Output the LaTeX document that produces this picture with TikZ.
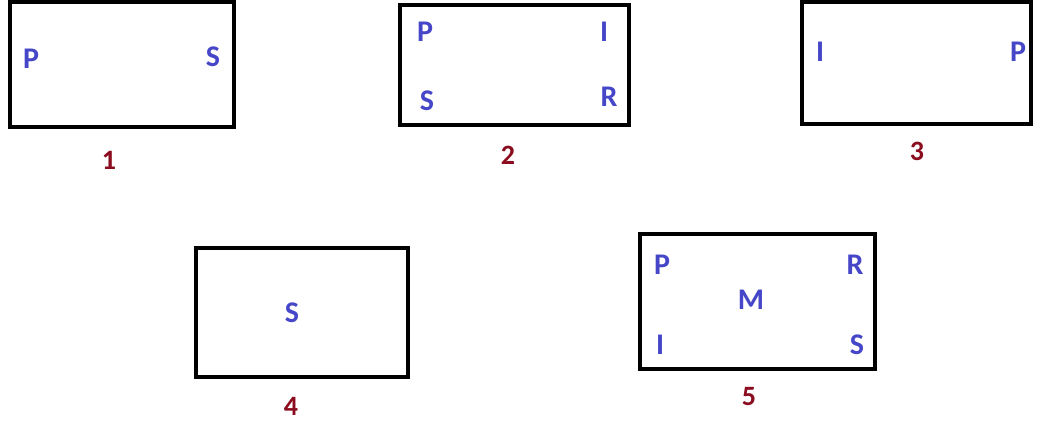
\documentclass[tikz,border=0pt]{standalone}
\usepackage{fontspec}
\setmainfont{Carlito}
\definecolor{letblue}{HTML}{4646C8}
\definecolor{labred}{HTML}{8A0C1E}
\begin{document}
\begin{tikzpicture}[x=1pt,y=-1pt,
  frame/.style={draw=black,line width=4pt},
  lett/.style={text=letblue,font=\fontsize{30}{30}\selectfont\bfseries,inner sep=0pt},
  lab/.style={text=labred,font=\fontsize{28}{28}\selectfont\bfseries,inner sep=0pt}]
\useasboundingbox[fill=white] (0,0) rectangle (1043,423);
% box 1
\draw[frame] (10,2) rectangle (234,127);
\node[lett] (b1p) at (31,59) {P};
\node[lett] (b1s) at (213,57) {S};
\node[lab] (l1) at (109,160) {1};
% box 2
\draw[frame] (400,5) rectangle (629,125);
\node[lett] (b2p) at (425,32) {P};
\node[lett] (b2i) at (604,32) {I};
\node[lett] (b2s) at (427,101) {S};
\node[lett] (b2r) at (609,97) {R};
\node[lab] (l2) at (508,155) {2};
% box 3
\draw[frame] (802,2) rectangle (1031,124);
\node[lett] (b3i) at (820,52) {I};
\node[lett] (b3p) at (1018,52) {P};
\node[lab] (l3) at (917,151) {3};
% box 4
\draw[frame] (196,248) rectangle (408,377);
\node[lett] (b4s) at (292,313) {S};
\node[lab] (l4) at (291,406) {4};
% box 5
\draw[frame] (640,234) rectangle (875,369);
\node[lett] (b5p) at (662,265) {P};
\node[lett] (b5r) at (855,265) {R};
\node[lett] (b5m) at (751,300) {M};
\node[lett] (b5i) at (660,345) {I};
\node[lett] (b5s) at (857,345) {S};
\node[lab] (l5) at (749,397) {5};
\end{tikzpicture}
\end{document}
